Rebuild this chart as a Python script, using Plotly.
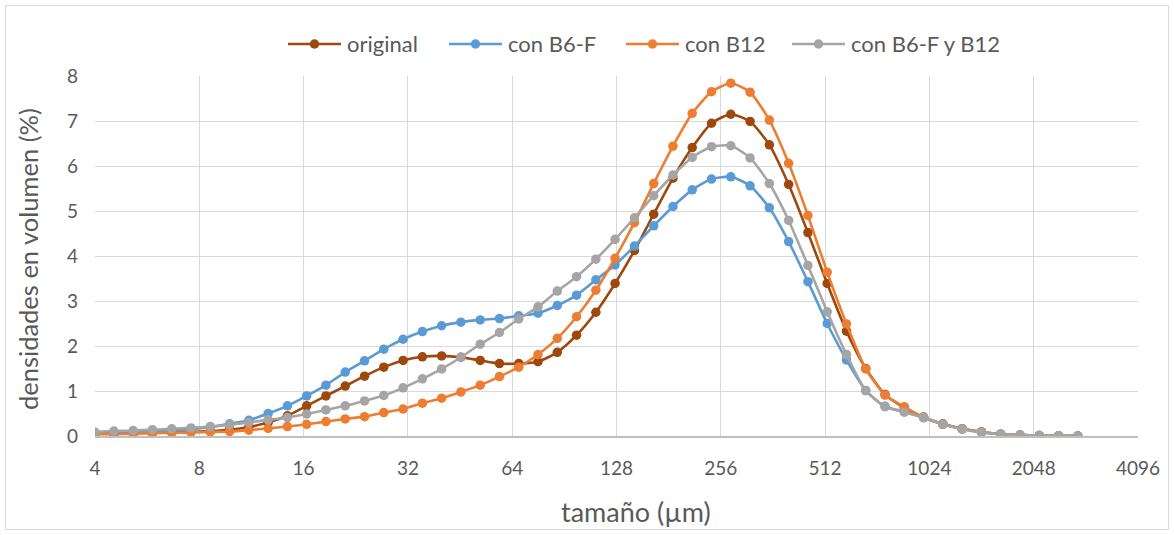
import plotly.graph_objects as go
import math

# Size classes (µm)
tamano = [3.991, 4.536, 5.156, 5.861, 6.661, 7.572, 8.606, 9.782, 11.12, 12.64,
          14.37, 16.33, 18.56, 21.10, 23.99, 27.26, 30.99, 35.23, 40.04, 45.51,
          51.74, 58.80, 66.84, 75.97, 86.36, 98.16, 111.6, 126.8, 144.2, 163.9,
          186.3, 211.7, 240.7, 273.6, 311.0, 353.5, 401.8, 456.8, 519.2, 590.2,
          670.8, 762.5, 866.8, 985.2, 1120, 1273, 1447, 1645, 1870, 2125,
          2416, 2746]

original = [0.05, 0.05, 0.06, 0.07, 0.08, 0.09, 0.11, 0.14, 0.20, 0.30,
            0.45, 0.67, 0.89, 1.11, 1.33, 1.53, 1.68, 1.76, 1.78, 1.75,
            1.68, 1.61, 1.61, 1.65, 1.86, 2.24, 2.75, 3.39, 4.12, 4.93,
            5.73, 6.41, 6.95, 7.15, 6.99, 6.47, 5.59, 4.52, 3.39, 2.33,
            1.50, 0.92, 0.63, 0.42, 0.27, 0.16, 0.09, 0.04, 0.02, 0.01,
            0.005, 0.0]

con_b6f = [0.07, 0.08, 0.09, 0.10, 0.12, 0.15, 0.20, 0.27, 0.35, 0.50,
           0.67, 0.89, 1.13, 1.42, 1.67, 1.93, 2.15, 2.32, 2.45, 2.53,
           2.58, 2.61, 2.67, 2.73, 2.90, 3.13, 3.47, 3.80, 4.22, 4.67,
           5.10, 5.47, 5.71, 5.76, 5.56, 5.07, 4.32, 3.43, 2.50, 1.69,
           1.01, 0.66, 0.54, 0.41, 0.26, 0.16, 0.09, 0.04, 0.02, 0.01,
           0.005, 0.0]

con_b12 = [0.04, 0.04, 0.05, 0.06, 0.07, 0.08, 0.09, 0.10, 0.13, 0.17,
           0.21, 0.26, 0.32, 0.38, 0.43, 0.52, 0.60, 0.73, 0.84, 0.98,
           1.13, 1.32, 1.53, 1.81, 2.17, 2.65, 3.24, 3.95, 4.74, 5.61,
           6.44, 7.17, 7.65, 7.84, 7.64, 7.02, 6.06, 4.90, 3.64, 2.49,
           1.49, 0.91, 0.65, 0.41, 0.26, 0.16, 0.09, 0.04, 0.02, 0.01,
           0.005, 0.0]

con_b6f_b12 = [0.09, 0.11, 0.12, 0.14, 0.16, 0.18, 0.21, 0.25, 0.30, 0.36,
               0.41, 0.49, 0.58, 0.67, 0.78, 0.90, 1.07, 1.27, 1.49, 1.75,
               2.04, 2.30, 2.60, 2.87, 3.22, 3.54, 3.93, 4.37, 4.85, 5.34,
               5.80, 6.19, 6.43, 6.45, 6.18, 5.61, 4.79, 3.79, 2.76, 1.81,
               1.01, 0.65, 0.53, 0.41, 0.26, 0.15, 0.08, 0.04, 0.02, 0.01,
               0.005, 0.0]

x_ticks = [4, 8, 16, 32, 64, 128, 256, 512, 1024, 2048, 4096]
x_tick_labels = [str(v) for v in x_ticks]
y_ticks = [0, 1, 2, 3, 4, 5, 6, 7, 8]

series_names = ["original", "con B6-F", "con B12", "con B6-F y B12"]
series_values = [original, con_b6f, con_b12, con_b6f_b12]
series_colors = ["#9E480E", "#5B9BD5", "#ED7D31", "#A5A5A5"]

FONT = "Lato"
TXT = "#595959"

W, H = 1174, 535
L, R, T, B = 95, 36, 76, 99
pw = W - L - R
ph = H - T - B


def px2x(px):
    return (px - L) / pw


def py2y(py):
    return (H - B - py) / ph


fig = go.Figure()
for name, vals, col in zip(series_names, series_values, series_colors):
    fig.add_trace(go.Scatter(
        x=tamano, y=vals, name=name, mode="lines+markers",
        line=dict(color=col, width=2.6, shape="spline", smoothing=0.6),
        marker=dict(color=col, size=9.5, line=dict(width=0)),
        showlegend=False,
    ))

fig.update_layout(
    width=W, height=H,
    margin=dict(l=L, r=R, t=T, b=B),
    paper_bgcolor="white", plot_bgcolor="white",
    font=dict(family=FONT, color=TXT, size=19),
    showlegend=False,
    xaxis=dict(type="log", range=[math.log10(4), math.log10(4096)],
               tickvals=x_ticks, ticktext=x_tick_labels,
               showgrid=True, gridcolor="#D9D9D9", gridwidth=1.3,
               showline=True, linecolor="#BFBFBF", linewidth=1.5,
               zeroline=False, ticks="", ticklabelstandoff=14,
               tickfont=dict(size=19, color=TXT, family=FONT)),
    yaxis=dict(range=[0, 8], tickvals=y_ticks,
               showgrid=True, gridcolor="#D9D9D9", gridwidth=1.3,
               showline=False, zeroline=False, ticks="", ticklabelstandoff=16,
               tickfont=dict(size=19, color=TXT, family=FONT)),
)

# Legend (drawn manually to match the original spacing)
legend_line_start = [288, 449, 626, 792]
LEG_Y = 44
for name, col, x0 in zip(series_names, series_colors, legend_line_start):
    fig.add_shape(type="line", xref="paper", yref="paper",
                  x0=px2x(x0), x1=px2x(x0 + 53), y0=py2y(LEG_Y), y1=py2y(LEG_Y),
                  line=dict(color=col, width=2.6))
    cx = x0 + 26.5
    fig.add_shape(type="circle", xref="paper", yref="paper",
                  x0=px2x(cx - 4.7), x1=px2x(cx + 4.7), y0=py2y(LEG_Y + 4.7), y1=py2y(LEG_Y - 4.7),
                  line=dict(width=0), fillcolor=col)
    fig.add_annotation(text=name, x=px2x(x0 + 57), y=py2y(LEG_Y - 1), xref="paper", yref="paper",
                       showarrow=False, font=dict(size=22, color=TXT, family=FONT),
                       xanchor="left", yanchor="middle")

fig.add_annotation(text="tamaño (µm)", x=px2x(636), y=py2y(512), xref="paper", yref="paper",
                   showarrow=False, font=dict(size=27, color=TXT, family=FONT),
                   xanchor="center", yanchor="middle")
fig.add_annotation(text="densidades en volumen (%)", x=px2x(28), y=py2y(259), xref="paper", yref="paper",
                   showarrow=False, textangle=-90, font=dict(size=25.5, color=TXT, family=FONT),
                   xanchor="center", yanchor="middle")

fig.add_shape(type="rect", xref="paper", yref="paper",
              x0=px2x(5.5), x1=px2x(1168.5), y0=py2y(529.5), y1=py2y(5.5),
              line=dict(color="#D9D9D9", width=1), fillcolor="rgba(0,0,0,0)", layer="below")

fig.write_html("out.html")
